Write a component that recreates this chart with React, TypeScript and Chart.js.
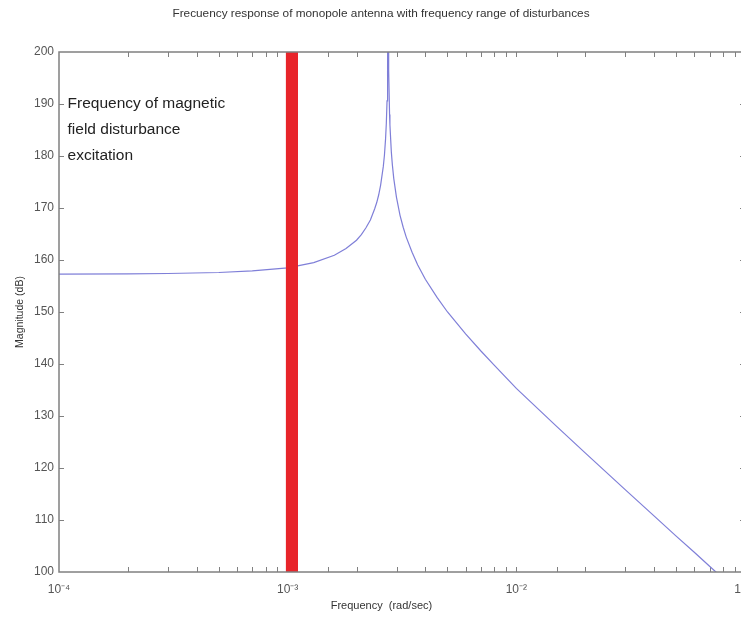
import React, { useEffect, useRef } from "react";
import { Chart, registerables } from "chart.js";

Chart.register(...registerables);

const TITLE = "Frecuency response of monopole antenna with frequency range of disturbances";
const X_TITLE = "Frequency  (rad/sec)";
const Y_TITLE = "Magnitude (dB)";

// Frequency (rad/sec) and magnitude (dB)
const FREQ = [
  1e-4, 2e-4, 3e-4, 5e-4, 7e-4, 1e-3, 1.3e-3, 1.6e-3, 1.8e-3, 2.0e-3, 2.1e-3, 2.2e-3, 2.3e-3,
  2.4e-3, 2.45e-3, 2.5e-3, 2.55e-3, 2.62e-3, 2.65e-3, 2.68e-3, 2.7e-3, 2.72e-3, 2.735e-3,
  2.75e-3, 2.765e-3, 2.79e-3, 2.8e-3, 2.84e-3, 2.87e-3, 2.91e-3, 2.99e-3, 3.1e-3, 3.2e-3,
  3.3e-3, 3.5e-3, 3.7e-3, 4e-3, 4.5e-3, 5e-3, 6e-3, 7e-3, 8e-3, 1e-2, 1.5e-2, 2e-2, 3e-2,
  4e-2, 5e-2, 6e-2, 7e-2, 8e-2, 1e-1,
];
const MAG_DB = [
  157.3, 157.35, 157.4, 157.6, 157.9, 158.5, 159.5, 160.9, 162.2, 163.8, 164.9, 166.2, 167.7,
  169.8, 171.0, 172.5, 174.4, 178.0, 180.2, 183.3, 186.2, 190.6, 196.6,
  230.0, 196.5, 188.0, 186.0, 180.8, 178.3, 175.7, 172.1, 168.6, 166.3,
  164.4, 161.5, 159.1, 156.3, 152.8, 150.0, 145.8, 142.5, 139.8, 135.3, 128.0, 122.9, 115.8,
  110.8, 106.9, 103.8, 101.1, 98.8, 94.9,
];

// Disturbance frequency band (red bar)
const BAND_FREQ = [0.98e-3, 1.11e-3];
const BAND_TOP = [200, 200];

const X_MIN = 1e-4;
const X_MAX = 1e-1;
const Y_MIN = 100;
const Y_MAX = 200;
const Y_STEP = 10;

const X_TICK_VALUES = [1e-4, 1e-3, 1e-2, 1e-1];
const X_TICK_LABELS = ["10\u207B\u2074", "10\u207B\u00B3", "10\u207B\u00B2", "10\u207B\u00B9"];

const ANNOTATION_LINES = ["Frequency of magnetic", "field disturbance", "excitation"];
const ANNOTATION_X = 1.09e-4;
const ANNOTATION_Y = [190, 185, 180];

const FONT = "'Liberation Sans', Arial, Helvetica, sans-serif";
const AXIS_COLOR = "#808080";
const TEXT_GRAY = "#555555";

const boxPlugin = {
  id: "matlabBox",
  beforeDatasetsDraw(chart: any) {
    const { ctx, chartArea } = chart;
    const { left, right, top, bottom } = chartArea;
    const xs = chart.scales.x;
    const ys = chart.scales.y;
    ctx.save();
    ctx.strokeStyle = AXIS_COLOR;
    ctx.lineWidth = 1;
    const tl = 5;
    ctx.beginPath();
    xs.ticks.forEach((t: any) => {
      const px = Math.round(xs.getPixelForValue(t.value)) + 0.5;
      if (px < left + 1 || px > right - 1) return;
      ctx.moveTo(px, bottom);
      ctx.lineTo(px, bottom - tl);
      ctx.moveTo(px, top);
      ctx.lineTo(px, top + tl);
    });
    ys.ticks.forEach((t: any) => {
      const py = Math.round(ys.getPixelForValue(t.value)) + 0.5;
      if (py < top + 1 || py > bottom - 1) return;
      ctx.moveTo(left, py);
      ctx.lineTo(left + tl, py);
      ctx.moveTo(right, py);
      ctx.lineTo(right - tl, py);
    });
    ctx.stroke();
    ctx.restore();
  },
  afterDraw(chart: any) {
    const { ctx, chartArea } = chart;
    const { left, right, top, bottom } = chartArea;
    const xs = chart.scales.x;
    const ys = chart.scales.y;
    ctx.save();
    ctx.strokeStyle = AXIS_COLOR;
    ctx.lineWidth = 1.5;
    ctx.strokeRect(left, top, right - left, bottom - top);

    // annotation text
    ctx.fillStyle = "#222222";
    ctx.font = `15.5px ${FONT}`;
    ctx.textAlign = "left";
    ctx.textBaseline = "middle";
    const ax = xs.getPixelForValue(ANNOTATION_X);
    ANNOTATION_LINES.forEach((line, i) => {
      ctx.fillText(line, ax, ys.getPixelForValue(ANNOTATION_Y[i]));
    });

    // x axis title
    ctx.fillStyle = "#333333";
    ctx.font = `11px ${FONT}`;
    ctx.textAlign = "center";
    ctx.fillText(X_TITLE, left + (right - left) * 0.47, 606);

    // chart title
    ctx.font = `11.8px ${FONT}`;
    ctx.fillText(TITLE, 381, 14);
    ctx.restore();
  },
};

export default function App() {
  const ref = useRef<HTMLCanvasElement | null>(null);

  useEffect(() => {
    if (!ref.current) return;
    const chart = new Chart(ref.current, {
      type: "line",
      data: {
        datasets: [
          {
            label: "band",
            data: BAND_FREQ.map((f, i) => ({ x: f, y: BAND_TOP[i] })),
            borderWidth: 0,
            borderColor: "rgba(0,0,0,0)",
            backgroundColor: "#e8242a",
            pointRadius: 0,
            fill: "start",
          },
          {
            label: "magnitude",
            data: FREQ.map((f, i) => ({ x: f, y: MAG_DB[i] })),
            borderColor: "#7f7fd8",
            borderWidth: 1.2,
            pointRadius: 0,
            fill: false,
            tension: 0,
          },
        ],
      },
      options: {
        animation: false,
        responsive: false,
        events: [],
        layout: { padding: { left: 0, right: 15, top: 52, bottom: 0 } },
        plugins: {
          legend: { display: false },
          tooltip: { enabled: false },
          title: { display: false },
        },
        scales: {
          x: {
            type: "logarithmic",
            min: X_MIN,
            max: X_MAX,
            grid: { display: false, drawTicks: false },
            border: { display: false },
            title: { display: false, text: X_TITLE },
            afterFit: (s: any) => {
              s.height = 46;
              s.paddingLeft = 0;
              s.paddingRight = 0;
            },
            ticks: {
              autoSkip: false,
              maxRotation: 0,
              padding: 10,
              color: TEXT_GRAY,
              font: { family: FONT, size: 12 },
              callback: (v: any) => {
                const idx = X_TICK_VALUES.findIndex((t) => Math.abs(Math.log10(t) - Math.log10(Number(v))) < 1e-6);
                return idx >= 0 ? X_TICK_LABELS[idx] : "";
              },
            },
          },
          y: {
            type: "linear",
            min: Y_MIN,
            max: Y_MAX,
            grid: { display: false, drawTicks: false },
            border: { display: false },
            afterFit: (s: any) => {
              s.width = 59;
              s.paddingTop = 0;
              s.paddingBottom = 0;
            },
            title: {
              display: true,
              text: Y_TITLE,
              color: "#333333",
              font: { family: FONT, size: 10.5 },
              padding: { top: 14, bottom: 0 },
            },
            ticks: {
              stepSize: Y_STEP,
              padding: 5,
              color: TEXT_GRAY,
              font: { family: FONT, size: 12 },
            },
          },
        },
      },
      plugins: [boxPlugin],
    });
    return () => chart.destroy();
  }, []);

  return (
    <div style={{ position: "fixed", left: 0, top: 0, width: 760, height: 618, background: "#fff" }}>
      <canvas ref={ref} width={760} height={618} style={{ display: "block" }} />
    </div>
  );
}
